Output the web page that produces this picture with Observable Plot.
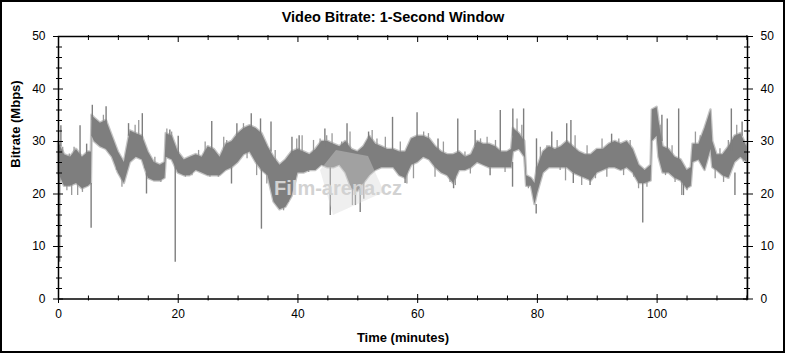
<!DOCTYPE html>
<html>
<head>
<meta charset="utf-8">
<script src="https://cdn.jsdelivr.net/npm/d3@7"></script>
<script src="https://cdn.jsdelivr.net/npm/@observablehq/plot@0.6"></script>
<style>
  html, body { margin: 0; padding: 0; background: #fff; }
  #chart { width: 785px; height: 353px; }
</style>
</head>
<body>
<div id="chart"></div>
<script>
// ---- Data (minutes, Mbps) ----
// main band: upper and lower envelope of the 1-second bitrate trace
const bandT  = [0,1,2,3,4,5,5.5,5.6,6,7,8,9,10,11,12,13,14,15,16,17,17.8,18,19,20,21,22,23,24,25,26,27,28,29,30,31,32,33,34,35,36,37,38,39,40,41,42,43,44,45,46,47,48,49,50,51,52,53,54,55,56,57,58,59,60,61,62,63,64,65,66,67,68,69,70,71,72,73,74,75,75.7,76,77,77.9,78.2,79,79.6,80,81,82,83,84,85,86,87,88,89,90,91,92,93,94,95,96,97,98,99,99.2,100,100.3,101,102,103,104,105,105.7,106,107,108,109,109.3,110,111,112,113,114,115];
const bandHi = [30,27.5,27,28.5,27,28,28,35,34.5,33.5,34,31,28,26,32,31.5,31,28,26,25.5,26,31.5,31,28,26.5,27,27.5,27,29,28.5,27,29.5,30,31.5,32.5,33,32.5,31.5,29,27,25.5,26.5,28,28.5,28,27.5,28.5,30,30,29.5,29,30,28.5,28,29,31,29.5,29,28.5,28.5,28,28,30.5,31,31,30.5,29,28,27.5,27.5,28,27,27.5,30,29.5,29.5,29,28,28,28.5,32.5,31.5,30,23.5,23,22,25,28,29,28.5,29,30,29,28,27.5,27.5,28.5,28.5,29.5,30,29.5,30,28.5,25.5,24.5,25.5,36,36.5,34,29,28.5,27,26.5,24.5,25,29.5,29.5,32.5,36,30,27.5,27.5,29,31,31.5,29];
const bandLo = [24,21.5,21.5,22,21,21.5,22,31,30,29,28.5,27,24,22,26,27,26.5,23,22.5,22.5,23,27,26.5,24,23.5,23.5,24.5,24,23.5,23.5,23.5,24.5,25,26,27.5,28,26,24.5,23.5,18.5,17,17.5,19.5,24,24,24.5,24.5,25.5,25,25,25.5,24,21,20.5,22,23.5,24.5,25,25,25,23.5,23,25.5,26,27,26.5,25,24,23.5,22,24.5,24.5,25,26,25.5,25,25,25,25,25,28,28.5,27,21.5,21.5,18,20,24,25,25,25,25,24,23.5,23,22.5,24,24.5,25,25,24.5,25,24,22,22,22.5,30,31,27,24,24,23,22.5,21,21.5,26,26.5,24.5,28.5,25,24.5,23.5,23,26,27,26];

// isolated one-second spikes: time, band edge, tip
const spikeT    = [0.2,0.4,3.6,4.7,5.45,5.65,7.95,11.7,14,14.7,18.6,19.5,20,25.6,28.9,29.8,32.2,33.75,33.9,35.5,39,40.2,44.5,45.4,48.2,49.6,50.4,51.8,55.8,57.9,59.9,63.4,66,66.7,69.6,72.1,73.8,75.85,75.9,77.7,79.8,79.85,82.4,84.9,85.6,86,88.8,92.4,97.6,100.8,101.7,103.6,104.4,112.4,113,114.2,115.05];
const spikeFrom = [24,29,27,27,22,34,33,31,30,24,30,26,27,28,25,30,32,31.5,26,28,27,28,29,25,29,22,21,30,28,24,30,28,23,27,29,25,28,26,31,30,18,23,28,29,29,24,23,29,22,30,28,26,22,28,24,31,26];
const spikeTo   = [7,33,33,29.5,13.5,36.9,36.6,33.4,35.3,20,32.2,7,31,33.8,21.9,33.4,35.3,34.3,13.3,33.7,30.8,31.1,32.4,15.9,33.4,17.8,16.5,31.8,34.6,22,35.5,30.5,21,34.3,32.1,23.5,35.9,21.3,36.2,36.2,16.2,30.5,31.8,33.4,34,22,21.6,31.4,14.5,35,34.3,36.2,19.7,36.2,19.7,33.7,0];

// smaller spikes along the band edges: time, tip
const tickleT = [0.7,1.4,1.8,2.2,2.6,3.2,4.0,6.1,6.7,7.5,8.4,9.7,10.6,12.8,13.4,14.4,16.1,17.1,18.1,18.9,21.2,22.3,23.4,24.5,25.3,26.7,27.6,28.1,30.9,31.5,33.1,34.8,36.2,37.0,37.6,38.4,39.8,40.7,41.8,42.6,43.7,44.8,45.7,47.3,48.7,49.1,51.0,52.4,53.2,54.6,57.1,58.2,59.3,61.0,61.8,62.9,64.3,65.4,66.3,67.9,68.8,70.5,71.6,73.0,74.6,76.6,77.4,78.5,80.5,81.6,83.3,83.8,84.7,86.3,87.4,88.3,89.7,90.8,91.6,93.6,94.4,95.5,96.1,96.9,98.3,100.5,101.4,102.5,103.0,104.1,105.0,106.4,107.2,109.7,110.5,111.1,111.9,113.3,114.4];
const tickleV = [28.9,20.6,27.6,19.7,28.9,19.7,20.3,33.7,33.4,35.0,28.3,24.5,21.3,33.1,34.0,24.8,27.0,22.2,32.4,31.8,23.2,23.5,28.3,29.9,23.2,23.2,30.8,30.2,33.4,26.7,23.5,21.9,28.3,17.1,16.8,18.4,30.5,31.1,24.1,30.2,30.5,31.1,31.5,29.9,31.8,17.8,19.0,32.1,30.5,30.8,29.9,21.9,22.9,31.8,31.5,23.2,29.9,22.2,21.6,28.0,23.8,30.5,30.8,30.2,24.1,34.3,33.1,21.0,28.9,29.2,30.2,24.5,22.5,31.1,21.6,29.2,22.9,30.5,23.2,30.5,23.5,30.2,23.2,21.0,21.3,33.1,23.5,29.2,22.2,19.7,20.6,31.8,31.1,22.9,28.6,22.2,30.2,33.1,26.1];

const xMajor = [0,20,40,60,80,100];
const xMinor = [5,10,15,25,30,35,45,50,55,65,70,75,85,90,95,105,110,115];
const yMajor = [0,10,20,30,40,50];
const yMinor = [2,4,6,8,12,14,16,18,22,24,26,28,32,34,36,38,42,44,46,48];

const titleText = "Video Bitrate: 1-Second Window";
const yLabel = "Bitrate (Mbps)";
const xLabel = "Time (minutes)";
const watermark = "Film-arena.cz";

// ---- tables ----
const band = bandT.map((t, i) => ({t, hi: bandHi[i], lo: bandLo[i]}));
const spikes = spikeT.map((t, i) => ({t, from: spikeFrom[i], to: spikeTo[i]}));
const near = d3.bisector(d => d.t).center;
const tickles = tickleT.map((t, i) => {
  const b = band[near(band, t)];
  return {t, from: (b.hi + b.lo) / 2, to: tickleV[i]};
});

const gray = "#7e7e7e";
const svg = Plot.plot({
  width: 785,
  height: 353,
  marginLeft: 58,
  marginRight: 38,
  marginTop: 36,
  marginBottom: 54.5,
  style: {fontFamily: "'Liberation Sans', Arial, sans-serif", fontSize: "12px", background: "white", color: "black"},
  x: {domain: [0, 115.1], axis: null},
  y: {domain: [0, 50], axis: null},
  marks: [
    Plot.areaY(band, {x: "t", y1: "lo", y2: "hi", fill: "#bdbdbd", stroke: "#c4c4c4", strokeWidth: 2.5, curve: "linear"}),
    Plot.ruleX(tickles, {x: "t", y1: "from", y2: "to", stroke: "#9a9a9a", strokeWidth: 1.3}),
    Plot.areaY(band, {x: "t", y1: "lo", y2: "hi", fill: gray, curve: "linear"}),
    Plot.ruleX(spikes, {x: "t", y1: "from", y2: "to", stroke: gray, strokeWidth: 1.4}),
    Plot.frame({stroke: "black", strokeWidth: 1.5}),
    // left axis
    Plot.axisY(yMajor, {anchor: "left", tickSize: 10, dx: 5, tickPadding: 8, label: null, fontSize: 12}),
    Plot.axisY(yMinor, {anchor: "left", tickSize: 6, dx: 4, text: null, label: null}),
    // right axis
    Plot.axisY(yMajor, {anchor: "right", tickSize: 10, dx: -5, tickPadding: 8, label: null, fontSize: 12}),
    Plot.axisY(yMinor, {anchor: "right", tickSize: 6, dx: -4, text: null, label: null}),
    // bottom axis
    Plot.axisX(xMajor, {anchor: "bottom", tickSize: 9, dy: -4.5, tickPadding: 6, label: null, fontSize: 12}),
    Plot.axisX(xMinor, {anchor: "bottom", tickSize: 5, dy: -3, text: null, label: null}),
    // top axis (ticks only)
    Plot.axisX(xMajor, {anchor: "top", tickSize: 5, dy: 5, text: null, label: null}),
    Plot.axisX(xMinor, {anchor: "top", tickSize: 5, dy: 3, text: null, label: null}),
    // titles
    Plot.text([titleText], {text: d => d, frameAnchor: "top", lineAnchor: "middle", dy: -19, dx: -10, fontWeight: "bold", fontSize: 14.5}),
    Plot.text([yLabel], {text: d => d, frameAnchor: "left", rotate: -90, dx: -43, fontWeight: "bold", fontSize: 13}),
    Plot.text([xLabel], {text: d => d, frameAnchor: "bottom", lineAnchor: "middle", dy: 39, fontWeight: "bold", fontSize: 13})
  ]
});

const s = d3.select(svg);
// watermark (decoration drawn over the data)
const wm = s.append("g");
wm.append("path")
  .attr("d", "M320,170 L336,150 L368,156 L384,192 L333,215 Z")
  .attr("fill", "#d8d8d8").attr("opacity", 0.4);
wm.append("text")
  .attr("x", 338).attr("y", 195)
  .attr("fill", "#d2d2d2")
  .attr("font-weight", "bold")
  .attr("font-size", 20)
  .attr("font-family", "'Liberation Sans', Arial, sans-serif")
  .text(watermark);
// outer border
s.append("rect")
  .attr("x", 1).attr("y", 1).attr("width", 783).attr("height", 351)
  .attr("fill", "none").attr("stroke", "black").attr("stroke-width", 2);

document.getElementById("chart").appendChild(svg);
</script>
</body>
</html>
